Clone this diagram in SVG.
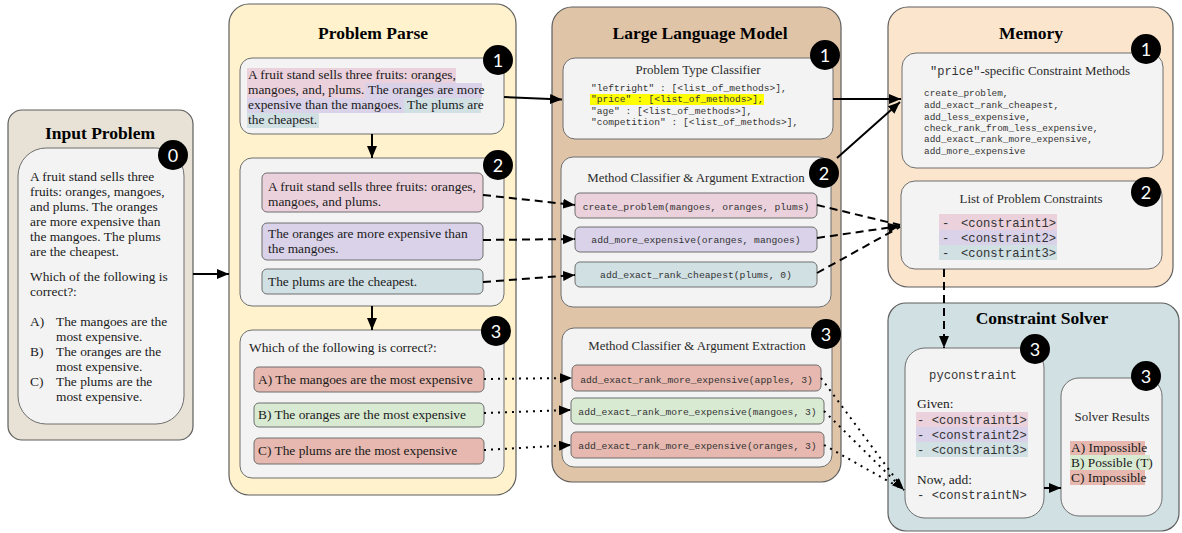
<svg xmlns="http://www.w3.org/2000/svg" width="1182" height="533" viewBox="0 0 1182 533">
  <style>
    .panel { stroke: #5e5e5e; stroke-width: 1.2; }
    .box { fill: #f3f3f3; stroke: #6e6e6e; stroke-width: 1; }
    .sub { stroke: #6e6e6e; stroke-width: 1; }
    .pink { fill: #ead1dc; }
    .purple { fill: #d9d2e9; }
    .teal { fill: #d0e0e3; }
    .red { fill: #e6b8af; }
    .green { fill: #d9ead3; }
    .title { font-family: "Liberation Serif", serif; font-weight: bold; font-size: 17.5px; text-anchor: middle; fill: #000; }
    .t { font-family: "Liberation Serif", serif; font-size: 13.4px; fill: #1a1a1a; }
    .st { font-family: "Liberation Serif", serif; font-size: 12.9px; text-anchor: middle; fill: #2a2a2a; }
    .m { font-family: "Liberation Mono", monospace; font-size: 9.6px; fill: #333; }
    .mc { font-family: "Liberation Mono", monospace; font-size: 9.7px; fill: #333; text-anchor: middle; }
    .ml { font-family: "Liberation Mono", monospace; font-size: 12.2px; fill: #333; }
    .badge circle { fill: #000; }
    .badge text { font-family: Lato, "Open Sans", sans-serif; font-size: 18px; fill: #fff; text-anchor: middle; }
    .link { fill: none; stroke: #000; stroke-width: 2; }
    .dash { stroke-dasharray: 8 5; }
    .dot { stroke-dasharray: 2 5; }
  </style>
  <defs>
    <marker id="head" viewBox="0 0 12 10" refX="12" refY="5" markerWidth="12" markerHeight="10" markerUnits="userSpaceOnUse" orient="auto">
      <path d="M0,0 L12,5 L0,10 Z" fill="#000"/>
    </marker>
  </defs>

  <!-- Input problem -->
  <g id="input-problem">
    <rect class="panel" x="8" y="110" width="185" height="330" rx="14" fill="#e7e2d5"/>
    <text class="title" x="100" y="139">Input Problem</text>
    <rect class="box" x="18" y="148" width="166" height="276" rx="28"/>
    <text class="t" x="30" y="181">A fruit stand sells three</text>
    <text class="t" x="30" y="196">fruits: oranges, mangoes,</text>
    <text class="t" x="30" y="211">and plums. The oranges</text>
    <text class="t" x="30" y="226">are more expensive than</text>
    <text class="t" x="30" y="241">the mangoes. The plums</text>
    <text class="t" x="30" y="256">are the cheapest.</text>
    <text class="t" x="30" y="281">Which of the following is</text>
    <text class="t" x="30" y="296">correct?:</text>
    <text class="t" x="30" y="326">A)</text>
    <text class="t" x="56" y="326">The mangoes are the</text>
    <text class="t" x="56" y="341">most expensive.</text>
    <text class="t" x="30" y="356">B)</text>
    <text class="t" x="56" y="356">The oranges are the</text>
    <text class="t" x="56" y="371">most expensive.</text>
    <text class="t" x="30" y="386">C)</text>
    <text class="t" x="56" y="386">The plums are the</text>
    <text class="t" x="56" y="401">most expensive.</text>
    <g class="badge"><circle cx="173" cy="155" r="15"/><text x="173" y="161.5">0</text></g>
  </g>

  <!-- Problem parse -->
  <g id="problem-parse">
    <rect class="panel" x="229" y="4" width="287" height="491" rx="20" fill="#fff2cc"/>
    <text class="title" x="373" y="39">Problem Parse</text>

    <g id="parse-1">
      <rect class="box" x="240" y="58" width="264" height="76" rx="12"/>
      <rect class="pink" x="247" y="68" width="209" height="15"/>
      <rect class="pink" x="247" y="83" width="118" height="15"/>
      <rect class="purple" x="365" y="83" width="117" height="15"/>
      <rect class="purple" x="247" y="98" width="157" height="15"/>
      <rect class="teal" x="404" y="98" width="77" height="15"/>
      <rect class="teal" x="247" y="113" width="72" height="15"/>
      <text class="t" x="248" y="79">A fruit stand sells three fruits: oranges,</text>
      <text class="t" x="248" y="94">mangoes, and, plums.</text>
      <text class="t" x="368" y="94">The oranges are more</text>
      <text class="t" x="248" y="109">expensive than the mangoes.</text>
      <text class="t" x="407" y="109">The plums are</text>
      <text class="t" x="248" y="124">the cheapest.</text>
      <g class="badge"><circle cx="498" cy="60" r="15"/><text x="498" y="66.5">1</text></g>
    </g>

    <g id="parse-2">
      <rect class="box" x="240" y="158" width="264" height="148" rx="12"/>
      <rect class="sub pink" x="262" y="173" width="221" height="39" rx="5"/>
      <text class="t" x="268" y="191">A fruit stand sells three fruits: oranges,</text>
      <text class="t" x="268" y="206">mangoes, and plums.</text>
      <rect class="sub purple" x="262" y="223" width="221" height="37" rx="5"/>
      <text class="t" x="268" y="238">The oranges are more expensive than</text>
      <text class="t" x="268" y="253">the mangoes.</text>
      <rect class="sub teal" x="262" y="269" width="221" height="25" rx="5"/>
      <text class="t" x="268" y="286">The plums are the cheapest.</text>
      <g class="badge"><circle cx="498" cy="165" r="15"/><text x="498" y="171.5">2</text></g>
    </g>

    <g id="parse-3">
      <rect class="box" x="240" y="330" width="264" height="148" rx="12"/>
      <text class="t" x="249" y="352">Which of the following is correct?:</text>
      <rect class="sub red" x="254" y="367" width="230" height="25" rx="5"/>
      <text class="t" x="258" y="384">A) The mangoes are the most expensive</text>
      <rect class="sub green" x="254" y="403" width="230" height="24" rx="5"/>
      <text class="t" x="258" y="419">B) The oranges are the most expensive</text>
      <rect class="sub red" x="254" y="438" width="230" height="26" rx="5"/>
      <text class="t" x="258" y="455">C) The plums are the most expensive</text>
      <g class="badge"><circle cx="496" cy="331" r="15"/><text x="496" y="337.5">3</text></g>
    </g>
  </g>

  <!-- Large language model -->
  <g id="llm">
    <rect class="panel" x="552" y="7" width="289" height="475" rx="20" fill="#dfc4a8"/>
    <text class="title" x="700" y="39">Large Language Model</text>

    <g id="llm-1">
      <rect class="box" x="563" y="58" width="270" height="81" rx="12"/>
      <text class="st" x="698" y="73.5">Problem Type Classifier</text>
      <rect x="590" y="94" width="174" height="11" fill="#ffff00"/>
      <text class="m" x="591" y="91">"leftright" : [&lt;list_of_methods&gt;],</text>
      <text class="m" x="591" y="102.3">"price" : [&lt;list_of_methods&gt;],</text>
      <text class="m" x="591" y="113.6">"age" : [&lt;list_of_methods&gt;],</text>
      <text class="m" x="591" y="125">"competition" : [&lt;list_of_methods&gt;],</text>
      <g class="badge"><circle cx="825" cy="55" r="15"/><text x="825" y="61.5">1</text></g>
    </g>

    <g id="llm-2">
      <rect class="box" x="561" y="157" width="270" height="150" rx="12"/>
      <text class="st" x="696" y="182">Method Classifier &amp; Argument Extraction</text>
      <rect class="sub pink" x="575" y="193" width="242" height="25" rx="5"/>
      <text class="mc" x="696" y="210">create_problem(mangoes, oranges, plums)</text>
      <rect class="sub purple" x="575" y="227" width="242" height="25" rx="5"/>
      <text class="mc" x="696" y="243">add_more_expensive(oranges, mangoes)</text>
      <rect class="sub teal" x="575" y="262" width="242" height="25" rx="5"/>
      <text class="mc" x="696" y="278">add_exact_rank_cheapest(plums, 0)</text>
      <g class="badge"><circle cx="824" cy="173" r="15"/><text x="824" y="179.5">2</text></g>
    </g>

    <g id="llm-3">
      <rect class="box" x="562" y="328" width="270" height="139" rx="12"/>
      <text class="st" x="697" y="350">Method Classifier &amp; Argument Extraction</text>
      <rect class="sub red" x="572" y="365" width="249" height="26" rx="5"/>
      <text class="mc" x="696.5" y="383">add_exact_rank_more_expensive(apples, 3)</text>
      <rect class="sub green" x="571" y="398" width="253" height="26" rx="5"/>
      <text class="mc" x="697.5" y="414.5">add_exact_rank_more_expensive(mangoes, 3)</text>
      <rect class="sub red" x="571" y="432" width="253" height="26" rx="5"/>
      <text class="mc" x="697.5" y="448.5">add_exact_rank_more_expensive(oranges, 3)</text>
      <g class="badge"><circle cx="826" cy="334" r="15"/><text x="826" y="340.5">3</text></g>
    </g>
  </g>

  <!-- Memory -->
  <g id="memory">
    <rect class="panel" x="888" y="7" width="285" height="280" rx="20" fill="#fce5cd"/>
    <text class="title" x="1031" y="39">Memory</text>

    <g id="memory-1">
      <rect class="box" x="902" y="53" width="261" height="115" rx="14"/>
      <text x="930" y="75"><tspan font-family="Liberation Mono, monospace" font-size="12px" fill="#333">"price"</tspan><tspan font-family="Liberation Serif, serif" font-size="12.9px" fill="#2a2a2a">-specific Constraint Methods</tspan></text>
      <g font-family="Liberation Mono, monospace" font-size="9.4px" fill="#333">
        <text x="924" y="96">create_problem,</text>
        <text x="924" y="108">add_exact_rank_cheapest,</text>
        <text x="924" y="120">add_less_expensive,</text>
        <text x="924" y="131">check_rank_from_less_expensive,</text>
        <text x="924" y="142">add_exact_rank_more_expensive,</text>
        <text x="924" y="154">add_more_expensive</text>
      </g>
      <g class="badge"><circle cx="1146" cy="49" r="15"/><text x="1146" y="55.5">1</text></g>
    </g>

    <g id="memory-2">
      <rect class="box" x="901" y="181" width="261" height="88" rx="14"/>
      <text class="st" x="1031" y="203">List of Problem Constraints</text>
      <rect class="pink" x="939" y="214" width="118" height="16"/>
      <rect class="purple" x="939" y="230" width="118" height="15"/>
      <rect class="teal" x="939" y="245" width="118" height="15"/>
      <text class="ml" x="942" y="227">-</text>
      <text class="ml" x="961" y="227">&lt;constraint1&gt;</text>
      <text class="ml" x="942" y="242">-</text>
      <text class="ml" x="961" y="242">&lt;constraint2&gt;</text>
      <text class="ml" x="942" y="257">-</text>
      <text class="ml" x="961" y="257">&lt;constraint3&gt;</text>
      <g class="badge"><circle cx="1146" cy="192" r="15"/><text x="1146" y="198.5">2</text></g>
    </g>
  </g>

  <!-- Constraint solver -->
  <g id="constraint-solver">
    <rect class="panel" x="888" y="303" width="291" height="228" rx="18" fill="#d0e0e3"/>
    <text class="title" x="1042" y="324">Constraint Solver</text>

    <g id="pyconstraint">
      <rect class="box" x="905" y="348" width="139" height="170" rx="20"/>
      <text class="ml" x="973" y="379" text-anchor="middle">pyconstraint</text>
      <text class="t" x="917" y="408">Given:</text>
      <rect class="pink" x="916" y="412" width="112" height="15"/>
      <rect class="purple" x="916" y="427" width="112" height="15"/>
      <rect class="teal" x="916" y="442" width="112" height="15"/>
      <text class="ml" x="917" y="424">- &lt;constraint1&gt;</text>
      <text class="ml" x="917" y="439">- &lt;constraint2&gt;</text>
      <text class="ml" x="917" y="454">- &lt;constraint3&gt;</text>
      <text class="t" x="917" y="484">Now, add:</text>
      <text class="ml" x="917" y="499">- &lt;constraintN&gt;</text>
      <g class="badge"><circle cx="1035" cy="349" r="15"/><text x="1035" y="355.5">3</text></g>
    </g>

    <g id="solver-results">
      <rect class="box" x="1061" y="378" width="101" height="138" rx="18"/>
      <text class="st" x="1112" y="421">Solver Results</text>
      <rect class="red" x="1070" y="441" width="75" height="14"/>
      <rect class="green" x="1070" y="455" width="80" height="15"/>
      <rect class="red" x="1070" y="470" width="75" height="15"/>
      <text class="t" x="1071" y="452">A) Impossible</text>
      <text class="t" x="1071" y="467">B) Possible (T)</text>
      <text class="t" x="1071" y="482">C) Impossible</text>
      <g class="badge"><circle cx="1146" cy="376" r="15"/><text x="1146" y="382.5">3</text></g>
    </g>
  </g>

  <!-- Connectors -->
  <g id="connectors">
    <!-- solid flow -->
    <path class="link" d="M193,274 L229,274" marker-end="url(#head)"/>
    <path class="link" d="M504,97 L562,99.5" marker-end="url(#head)"/>
    <path class="link" d="M372,134 L372,158" marker-end="url(#head)"/>
    <path class="link" d="M372,306 L372,330" marker-end="url(#head)"/>
    <path class="link" d="M833,99 L901,99" marker-end="url(#head)"/>
    <path class="link" d="M837,158 L900,102" marker-end="url(#head)"/>
    <path class="link" d="M1044,488 L1061,488" marker-end="url(#head)"/>

    <!-- dashed: statements to methods to constraints -->
    <path class="link dash" d="M483,195 L575,205" marker-end="url(#head)"/>
    <path class="link dash" d="M483,240 L575,239" marker-end="url(#head)"/>
    <path class="link dash" d="M483,282 L575,275" marker-end="url(#head)"/>
    <path class="link dash" d="M817,205 L900,225"/>
    <path class="link dash" d="M817,238 L900,226" marker-end="url(#head)"/>
    <path class="link dash" d="M817,273 L900,227"/>
    <path class="link dash" d="M944,269 L944,348" marker-end="url(#head)"/>

    <!-- dotted: answer options to checks to solver -->
    <path class="link dot" d="M484,379 L572,378" marker-end="url(#head)"/>
    <path class="link dot" d="M484,413 L571,410" marker-end="url(#head)"/>
    <path class="link dot" d="M484,450 L571,445" marker-end="url(#head)"/>
    <path class="link dot" d="M821,378 L904,490"/>
    <path class="link dot" d="M824,411 L904,490" marker-end="url(#head)"/>
    <path class="link dot" d="M824,445 L904,490"/>
  </g>
</svg>
